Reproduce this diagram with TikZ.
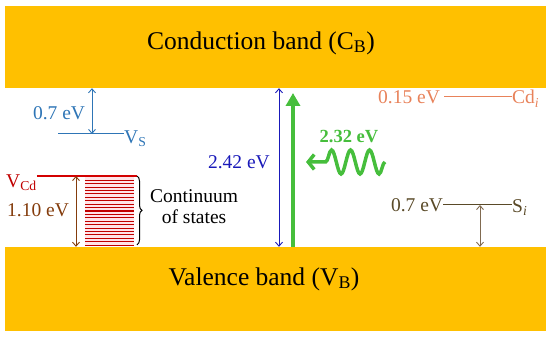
\documentclass[tikz,border=0pt]{standalone}
\usepackage{fontspec}
\setmainfont{Liberation Serif}
\usetikzlibrary{arrows.meta,positioning,calc,decorations.pathreplacing,decorations.pathmorphing}
\definecolor{bandorange}{RGB}{255,192,0}
\definecolor{vsblue}{RGB}{46,117,182}
\definecolor{gapblue}{RGB}{25,25,185}
\definecolor{photongreen}{RGB}{70,190,60}
\definecolor{cdorange}{RGB}{232,130,90}
\definecolor{siolive}{RGB}{90,74,40}
\definecolor{sibrown}{RGB}{128,106,80}
\definecolor{vcdred}{RGB}{192,0,0}
\definecolor{vcdbrown}{RGB}{132,60,12}
\definecolor{statepink}{RGB}{255,228,232}

\begin{document}
\begin{tikzpicture}[
    x=1pt, y=-1pt,
    every node/.style={align=center, inner sep=0pt},
    band/.style={rectangle, fill=bandorange, minimum width=541pt, minimum height=82pt},
    bandtext/.style={font=\fontsize{25.5}{30}\selectfont},
    lbl/.style={font=\fontsize{19.5}{21}\selectfont},
    level/.style={line width=1pt},
    dbl/.style={line width=0.9pt, {Straight Barb[length=4pt,width=7pt]}-{Straight Barb[length=4pt,width=7pt]}},
    absorb/.style={photongreen, line width=4pt, -{Triangle[length=13pt,width=14pt]}},
    photon/.style={photongreen, line width=3.5pt, -{Straight Barb[length=6pt,width=15pt]}, decorate,
        decoration={snake, amplitude=12pt, segment length=19pt, post length=16pt}}
]
\useasboundingbox (0,0) rectangle (550,337);

% Bands
\node[band] (cb) at (275.5,47) {};
\node[band, minimum height=84pt] (vb) at (275.5,289) {};
\node[bandtext] (cbtext) at (261,43) {Conduction band (C\textsubscript{B})};
\node[bandtext] (vbtext) at (264,279) {Valence band (V\textsubscript{B})};

% V_S level
\node[lbl, text=vsblue] (vsval) at (59,113) {0.7 eV};
\node[lbl, text=vsblue, anchor=base west] (vs) at (124,143) {V\textsubscript{S}};
\coordinate (vsleft) at (58,134);
\coordinate (vsfoot) at (92,134);
\draw[level, vsblue] (vsleft) -- (vsleft -| vs.west);
\draw[dbl, vsblue] (cb.south -| vsfoot) -- (vsfoot);

% V_Cd level and continuum of states
\node[fill=statepink, minimum width=49pt, minimum height=68pt] (states) at (109.5,211) {};
\foreach \k in {0,...,20}
  \draw[vcdred, line width=1.1pt] ($(states.north west)!\k/20!(states.south west)$) -- ($(states.north east)!\k/20!(states.south east)$);
\node[lbl, text=vcdred, anchor=base west] (vcd) at (6,187) {V\textsubscript{Cd}};
\node[lbl, text=vcdbrown] (vcdval) at (38,210) {1.10 eV};
\coordinate (vcdtop) at (137,176);
\coordinate (vcdfoot) at (76,176);
\draw[vcdred!70!red, line width=1.5pt] (vcd.east |- vcdtop) -- (vcdtop);
\draw[dbl, vcdbrown] (vcdfoot) -- (vcdfoot |- vb.north);
\draw[decorate, decoration={brace, amplitude=5pt}, line width=1pt] (vcdtop) -- ($(vcdtop |- vb.north)+(0,-2)$);
\node[lbl, anchor=west] (contlbl) at (150,207) {Continuum\\of states};

% Band gap and absorption
\coordinate (gapx) at (279,162);
\draw[dbl, gapblue] (cb.south -| gapx) -- (vb.north -| gapx);
\node[lbl, text=gapblue, left=9pt of gapx] (gapval) {2.42 eV};
\coordinate (absx) at (293,93);
\draw[absorb] (vb.north -| absx) -- (absx);

% Photon
\coordinate (photontail) at (385,162);
\coordinate (photontip) at (306,162);
\draw[photon] (photontail) -- (photontip);
\node[lbl, font=\fontsize{18.5}{21}\selectfont\bfseries, text=photongreen] (photonval) at (349,137) {2.32 eV};

% Cd_i level
\node[lbl, text=cdorange] (cdval) at (409,97) {0.15 eV};
\node[lbl, text=cdorange, anchor=base west] (cdi) at (512,104) {Cd\textsubscript{\textit{i}}};
\draw[level, cdorange] (cdval.east) ++(4,0) -- (cdval.east -| cdi.west);

% S_i level
\node[lbl, text=siolive] (sival) at (417,205) {0.7 eV};
\node[lbl, text=siolive, anchor=base west] (si) at (512,212) {S\textsubscript{\textit{i}}};
\coordinate (sifoot) at (480,205);
\draw[level, siolive] (sival.east) -- (sival.east -| si.west);
\draw[dbl, sibrown] (sifoot) -- (sifoot |- vb.north);

\end{tikzpicture}
\end{document}
